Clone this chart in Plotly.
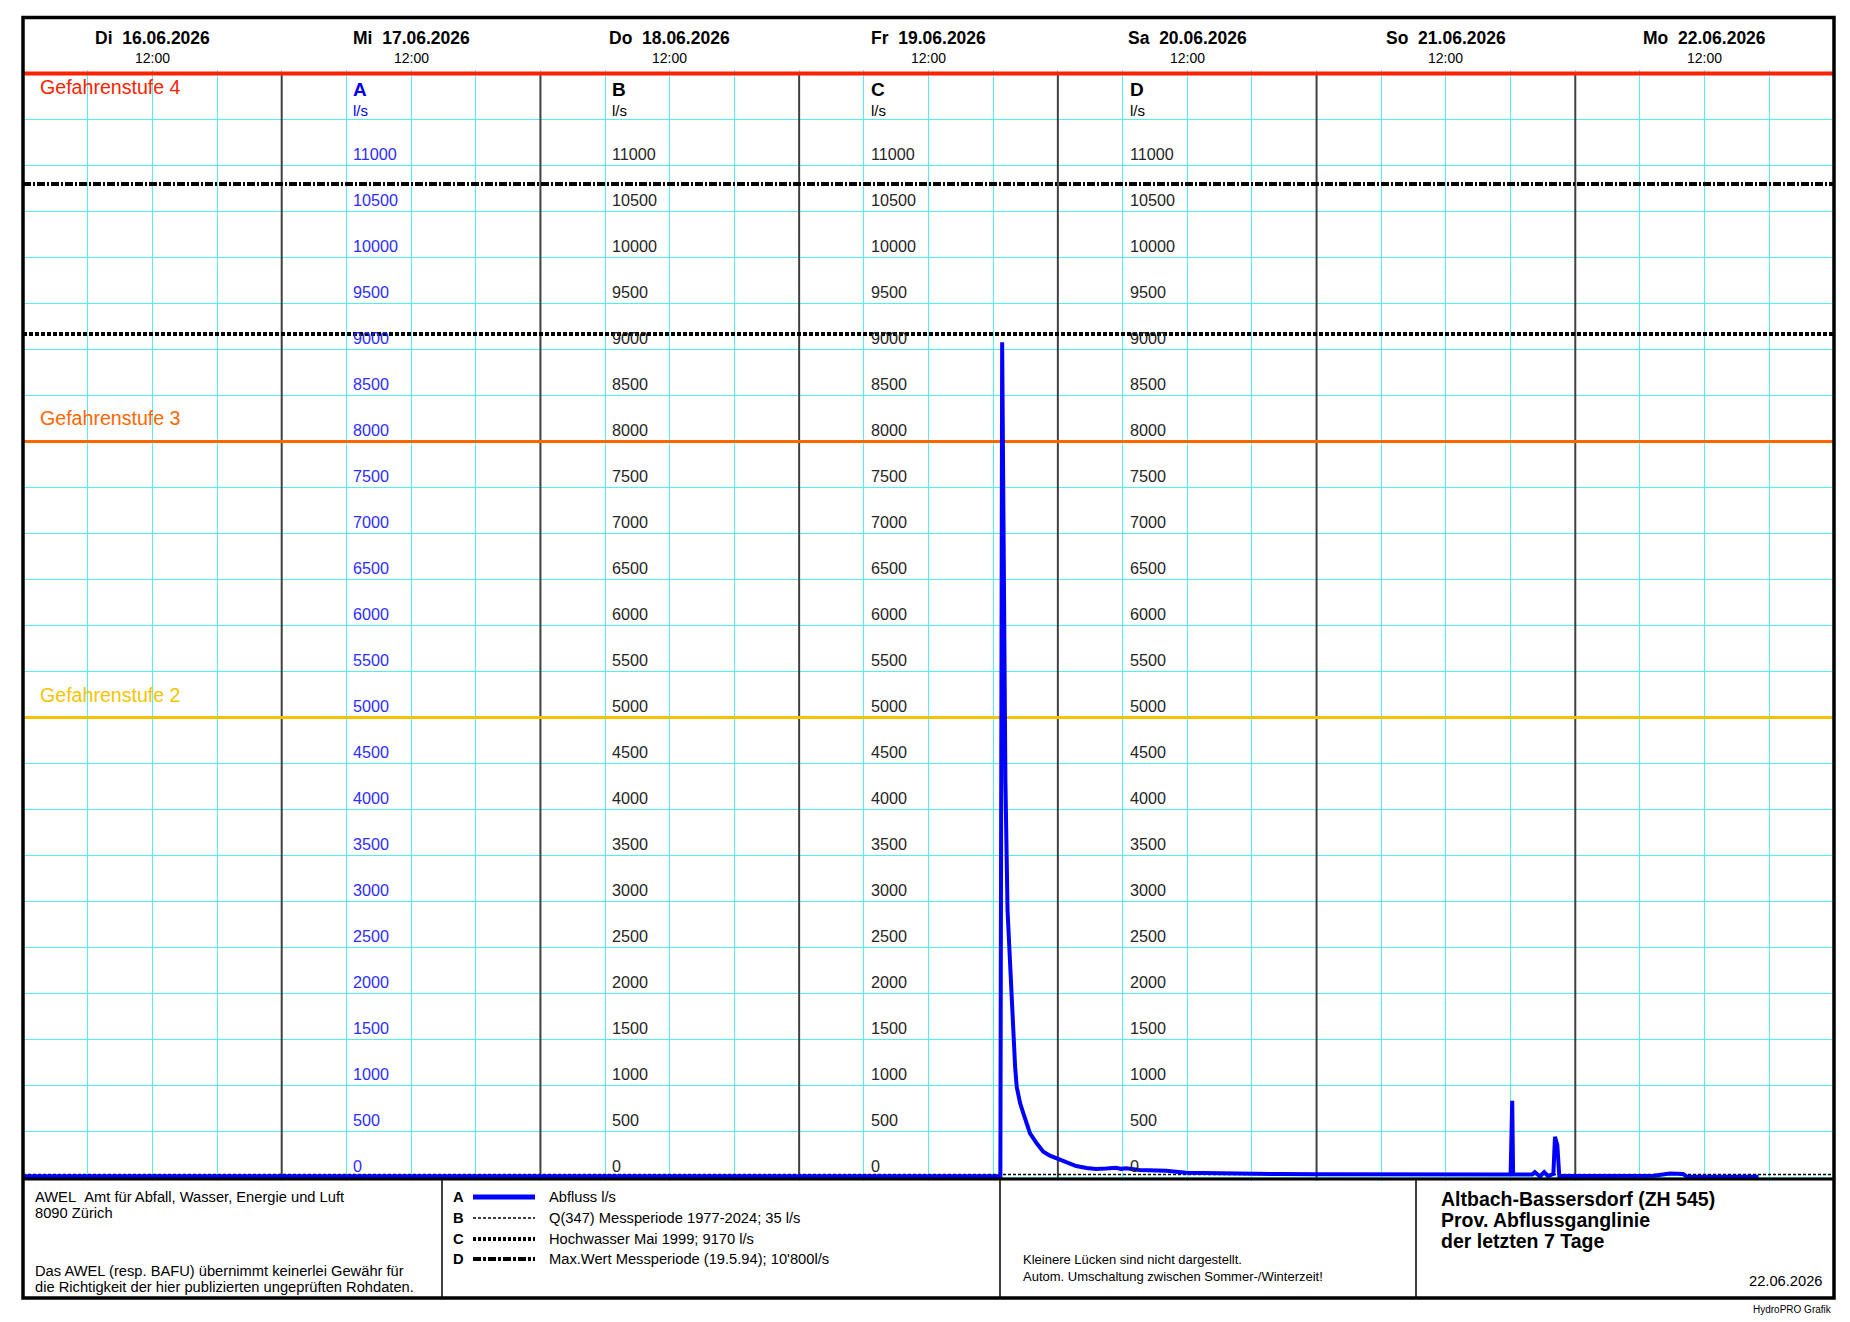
import plotly.graph_objects as go

W, H = 1850, 1322
FONT = "Liberation Sans, Arial, sans-serif"
CYAN = "#4ff0f0"
BLUE = "#0000ff"
DARK = "#404040"

# ---- data ---------------------------------------------------------------
DAYS = ["2026-06-16", "2026-06-17", "2026-06-18", "2026-06-19",
        "2026-06-20", "2026-06-21", "2026-06-22"]
DAY_NAMES = ["Di", "Mi", "Do", "Fr", "Sa", "So", "Mo"]
X_START, X_END = "2026-06-16 00:00", "2026-06-23 00:00"

# Abfluss l/s (provisional)
ABFLUSS_T = [
    "2026-06-16 00:00", "2026-06-16 06:00", "2026-06-16 12:00", "2026-06-16 18:00",
    "2026-06-17 00:00", "2026-06-17 12:00", "2026-06-18 00:00", "2026-06-18 12:00",
    "2026-06-19 00:00", "2026-06-19 12:00", "2026-06-19 18:40", "2026-06-19 18:50",
    "2026-06-19 18:58", "2026-06-19 19:08", "2026-06-19 19:20", "2026-06-19 19:35",
    "2026-06-19 19:43", "2026-06-19 19:52", "2026-06-19 20:02", "2026-06-19 20:11",
    "2026-06-19 20:30", "2026-06-19 20:48", "2026-06-19 21:07", "2026-06-19 21:25",
    "2026-06-19 22:02", "2026-06-19 22:39", "2026-06-19 23:16", "2026-06-20 00:03",
    "2026-06-20 01:05", "2026-06-20 01:42", "2026-06-20 02:40", "2026-06-20 03:33",
    "2026-06-20 04:30", "2026-06-20 05:25", "2026-06-20 05:50", "2026-06-20 06:20",
    "2026-06-20 07:34", "2026-06-20 08:40", "2026-06-20 10:03", "2026-06-20 11:54",
    "2026-06-20 14:20", "2026-06-20 17:28", "2026-06-20 20:33", "2026-06-21 00:00",
    "2026-06-21 06:00", "2026-06-21 12:00", "2026-06-21 18:00", "2026-06-21 18:09",
    "2026-06-21 18:14", "2026-06-21 20:00", "2026-06-21 20:15", "2026-06-21 20:43",
    "2026-06-21 21:07", "2026-06-21 21:29", "2026-06-21 21:58", "2026-06-21 22:07",
    "2026-06-21 22:20", "2026-06-21 22:31", "2026-06-22 03:00", "2026-06-22 07:16",
    "2026-06-22 08:48", "2026-06-22 10:00", "2026-06-22 10:21", "2026-06-22 17:00",
]
ABFLUSS_V = [
    14, 14, 14, 14,
    14, 14, 14, 14,
    14, 14, 14, 9080,
    6500, 4320, 2900, 2250,
    1928, 1494, 1205, 987,
    807, 698, 572, 481,
    373, 282, 238, 199,
    155, 126, 105, 93,
    98, 107, 95, 101,
    82, 78, 75, 53,
    47, 39, 39, 36,
    35, 34, 33, 835,
    33, 33, 60, 12,
    60, 15, 40, 444,
    354, 17, 17, 20,
    45, 40, 10, 10,
]

Q347 = 35          # B
HW_1999 = 9170     # C
MAX_WERT = 10800   # D

GEFAHR_LEVEL = [12000, 8000, 5000]
GEFAHR_TEXT = ["Gefahrenstufe 4", "Gefahrenstufe 3", "Gefahrenstufe 2"]
GEFAHR_COLOR = ["#ff2200", "#ff6600", "#f5c400"]

SCALE_COLS = ["A", "B", "C", "D"]
SCALE_AT = ["2026-06-17 06:00", "2026-06-18 06:00",
            "2026-06-19 06:00", "2026-06-20 06:00"]
SCALE_TICKS = list(range(0, 11001, 500))

LEGEND_TEXT = ["Abfluss l/s",
               "Q(347) Messperiode 1977-2024; 35 l/s",
               "Hochwasser Mai 1999; 9170 l/s",
               "Max.Wert Messperiode (19.5.94); 10'800l/s"]

# ---- page geometry (pixels) ---------------------------------------------
X_LEFT, X_RIGHT = 23, 1834
Y_ZERO, Y_TOP = 1177.6, 73.5
K = (Y_ZERO - Y_TOP) / 12000
PAD = 40


def px(x):
    return x / W


def py(y):
    return 1 - y / H


fig = go.Figure()

# threshold lines (Gefahrenstufen)
for lvl, col, w in zip(GEFAHR_LEVEL, GEFAHR_COLOR, [4, 3, 3]):
    fig.add_trace(go.Scatter(x=[X_START, X_END], y=[lvl, lvl], mode="lines",
                             line=dict(color=col, width=w), hoverinfo="skip"))

# reference lines B, C, D
fig.add_trace(go.Scatter(x=[X_START, X_END], y=[Q347, Q347], mode="lines",
                         line=dict(color="black", width=1.5, dash="3px,2px")))
fig.add_trace(go.Scatter(x=[X_START, X_END], y=[HW_1999, HW_1999], mode="lines",
                         line=dict(color="black", width=4, dash="4px,2px")))
fig.add_trace(go.Scatter(x=[X_START, X_END], y=[MAX_WERT, MAX_WERT], mode="lines",
                         line=dict(color="black", width=4, dash="8px,2px,2px,2px")))

# Abfluss
fig.add_trace(go.Scatter(x=ABFLUSS_T, y=ABFLUSS_V, mode="lines",
                         line=dict(color=BLUE, width=4), name="Abfluss l/s"))

shapes = []
# day boundaries
for d in DAYS[1:]:
    shapes.append(dict(type="line", xref="x", yref="y", x0=d, x1=d, y0=0, y1=12000,
                       line=dict(color=DARK, width=2), layer="between"))

# chart bottom, outer frame, footer dividers
shapes.append(dict(type="line", xref="paper", yref="paper",
                   x0=px(X_LEFT), x1=px(X_RIGHT), y0=py(1179), y1=py(1179),
                   line=dict(color="black", width=3)))
shapes.append(dict(type="rect", xref="paper", yref="paper",
                   x0=px(X_LEFT), x1=px(X_RIGHT), y0=py(1298), y1=py(17.5),
                   line=dict(color="black", width=3.5)))
for xd in [442, 1000, 1416]:
    shapes.append(dict(type="line", xref="paper", yref="paper",
                       x0=px(xd), x1=px(xd), y0=py(1179), y1=py(1298),
                       line=dict(color="black", width=1.5)))

# footer legend samples
LEG_ROWS = [1197, 1218, 1239, 1259]
sample_styles = [dict(color=BLUE, width=5),
                 dict(color="black", width=1.5, dash="3px,2px"),
                 dict(color="black", width=4, dash="3px,2px"),
                 dict(color="black", width=4, dash="8px,2px,3px,2px")]
for yy, st in zip(LEG_ROWS, sample_styles):
    shapes.append(dict(type="line", xref="paper", yref="paper",
                       x0=px(473), x1=px(535), y0=py(yy), y1=py(yy), line=st))

ann = []


def note(text, x, y, size, color="black", xanchor="left", yanchor="middle",
         xref="paper", yref="paper", xshift=0, yshift=0):
    ann.append(dict(text=text, x=x, y=y, xref=xref, yref=yref, showarrow=False,
                    xanchor=xanchor, yanchor=yanchor, xshift=xshift, yshift=yshift,
                    font=dict(family=FONT, size=size, color=color)))


# header: dates
for d, name in zip(DAYS, DAY_NAMES):
    dd = d.split("-")
    label = f"<b>{name}\u00a0\u00a0{dd[2]}.{dd[1]}.{dd[0]}</b>"
    note(label, d + " 12:00", py(38), 17.5, xanchor="center", xref="x")
    note("12:00", d + " 12:00", py(58), 14, xanchor="center", xref="x")

# Gefahrenstufen labels
for lvl, txt, col, ys in zip(GEFAHR_LEVEL, GEFAHR_TEXT, GEFAHR_COLOR, [-14, 24, 23]):
    note(txt, px(38), lvl, 19.6, color=col, yref="y", yshift=ys)

# value scales A-D
for c, at in zip(SCALE_COLS, SCALE_AT):
    col = "#0000ee" if c == "A" else "black"
    lab = "#2e2eff" if c == "A" else "#262626"
    note(f"<b>{c}</b>", at, 12000, 19, color=col, xref="x", yref="y",
         yanchor="top", xshift=5, yshift=-4)
    note("l/s", at, 12000, 15, color=col, xref="x", yref="y",
         yanchor="top", xshift=5, yshift=-27)
    for v in SCALE_TICKS:
        note(str(v), at, v, 16.2, color=lab, xref="x", yref="y",
             yanchor="bottom", xshift=5, yshift=1)

# footer: left box
note("AWEL\u00a0\u00a0Amt für Abfall, Wasser, Energie und Luft", px(33), py(1197), 14.7)
note("8090 Zürich", px(33), py(1213), 14.7)
note("Das AWEL (resp. BAFU) übernimmt keinerlei Gewähr für", px(33), py(1271), 14.7)
note("die Richtigkeit der hier publizierten ungeprüften Rohdaten.", px(33), py(1287), 14.7)

# footer: legend
for c, yy, txt in zip(SCALE_COLS, LEG_ROWS, LEGEND_TEXT):
    note(f"<b>{c}</b>", px(451), py(yy), 14.7)
    note(txt, px(547), py(yy), 14.7)

# footer: remarks
note("Kleinere Lücken sind nicht dargestellt.", px(1021), py(1259), 13)
note("Autom. Umschaltung zwischen Sommer-/Winterzeit!", px(1021), py(1276), 13)

# footer: title block
note("<b>Altbach-Bassersdorf (ZH 545)</b>", px(1439), py(1199), 19.5)
note("<b>Prov. Abflussganglinie</b>", px(1439), py(1220), 19.5)
note("<b>der letzten 7 Tage</b>", px(1439), py(1241), 19.5)
note("22.06.2026", px(1825), py(1281), 14.7, xanchor="right")
note("HydroPRO Grafik", px(1834), py(1309), 10, xanchor="right")

fig.update_layout(
    width=W, height=H,
    margin=dict(l=0, r=0, t=0, b=0),
    paper_bgcolor="white", plot_bgcolor="white",
    showlegend=False,
    shapes=shapes, annotations=ann,
    font=dict(family=FONT),
    xaxis=dict(type="date", range=[X_START, X_END],
               domain=[px(X_LEFT), px(X_RIGHT)],
               dtick=6 * 3600 * 1000, tick0=X_START,
               showgrid=True, gridcolor=CYAN, gridwidth=1.2,
               showticklabels=False, ticks="", zeroline=False, showline=False),
    yaxis=dict(range=[-PAD, 12000 + PAD],
               domain=[py(Y_ZERO + PAD * K), py(Y_TOP - PAD * K)],
               dtick=500, tick0=0,
               showgrid=True, gridcolor=CYAN, gridwidth=1.2,
               showticklabels=False, ticks="", zeroline=False, showline=False),
)

fig.write_html("out.html", config={"displayModeBar": False},
               post_script="document.body.style.margin='0px';"
                           "document.body.style.overflow='hidden';")
